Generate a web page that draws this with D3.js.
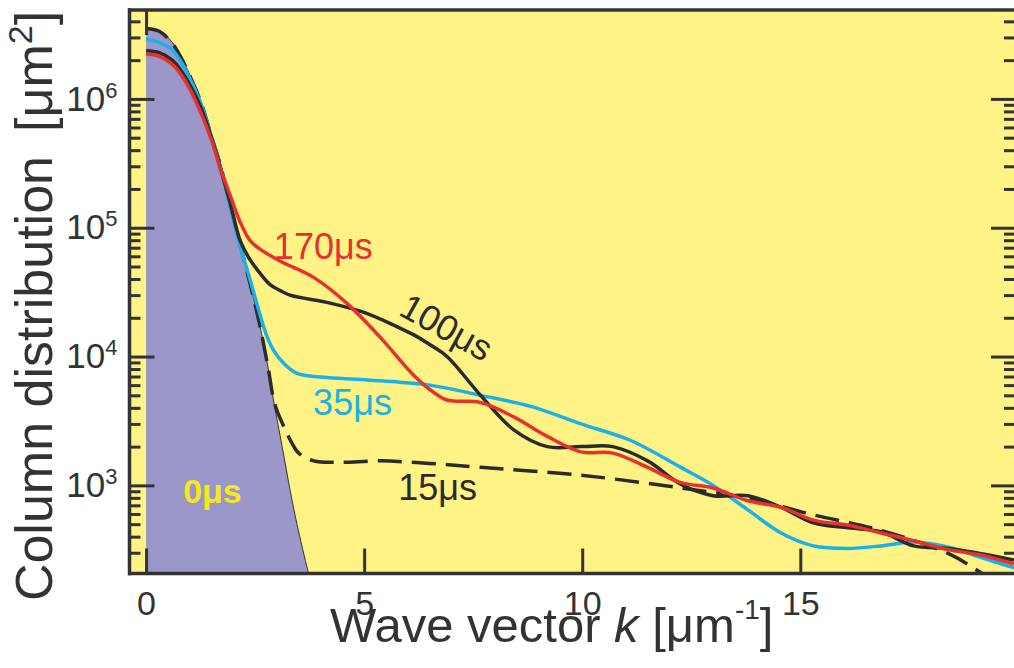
<!DOCTYPE html>
<html lang="en">
<head>
  <meta charset="UTF-8">
  <title>Column distribution vs wave vector</title>
  <script src="https://cdn.jsdelivr.net/npm/d3@7"></script>
  <style>
    body { margin: 0; background: #fff; }
    svg { display: block; font-family: "Liberation Sans", Arial, Helvetica, sans-serif; }
    .axis .domain { display: none; }
    .axis line { stroke: #333; stroke-width: 3; }
    .axis text { fill: #333; }
  </style>
</head>
<body>
<div id="chart"></div>
<script>
  // wave vector k [um^-1] and column distribution [um^2]
  const k0 = [0, 0.3, 0.6, 0.8, 1.0, 1.25, 1.5, 1.7, 1.93, 2.16, 2.4, 2.6, 2.8, 2.92, 3.12, 3.31, 3.46, 3.72, 4.0]
  const n0 = [3.6e6, 3.4e6, 2.75e6, 2.14e6, 1.55e6, 9.8e5, 5.2e5, 3.2e5, 1.5e5, 7.4e4, 3.5e4, 1.8e4, 8.1e3, 4.6e3, 2.0e3, 890, 500, 210, 90]

  const k15 = [0, 0.3, 0.6, 0.8, 1.0, 1.25, 1.5, 1.7, 1.93, 2.16, 2.4, 2.6, 2.8, 2.95, 3.15, 3.31, 3.5, 3.84, 4.45, 5.37, 6.5, 7.67, 9.97, 12.26, 13.8, 15.3, 16.85, 18.4, 19.15, 19.9]
  const n15 = [3.5e6, 3.35e6, 2.7e6, 2.1e6, 1.52e6, 9.6e5, 5.1e5, 3.1e5, 1.48e5, 7.3e4, 3.5e4, 1.8e4, 8.1e3, 4.3e3, 2.9e3, 2.24e3, 1.78e3, 1.55e3, 1.51e3, 1.55e3, 1.48e3, 1.38e3, 1.2e3, 955, 795, 590, 447, 295, 209, 141]

  const k35 = [0, 0.3, 0.6, 0.8, 1.0, 1.25, 1.5, 1.7, 1.93, 2.16, 2.39, 2.55, 2.75, 2.92, 3.15, 3.46, 4.06, 5.0, 6.5, 7.67, 8.82, 9.97, 11.1, 12.26, 13.0, 13.8, 14.56, 15.3, 16.1, 16.85, 17.6, 18.4, 19.15, 19.9]
  const n35 = [2.91e6, 2.75e6, 2.4e6, 1.95e6, 1.45e6, 9.3e5, 5.1e5, 3.0e5, 1.45e5, 7.1e4, 3.9e4, 2.5e4, 1.5e4, 1.12e4, 8.9e3, 7.4e3, 6.9e3, 6.6e3, 6.0e3, 5.0e3, 4.1e3, 3.0e3, 2.24e3, 1.38e3, 1.0e3, 645, 427, 339, 324, 339, 363, 331, 275, 229]

  const k100 = [0, 0.3, 0.6, 0.8, 1.0, 1.25, 1.5, 1.7, 1.93, 2.16, 2.39, 2.62, 2.85, 3.08, 3.3, 4.22, 5.0, 5.76, 6.13, 6.52, 6.9, 7.67, 8.43, 9.2, 9.97, 10.7, 11.5, 12.26, 13.0, 13.8, 14.56, 15.3, 16.1, 16.85, 17.6, 18.4, 19.15, 19.9]
  const n100 = [2.37e6, 2.29e6, 2.0e6, 1.66e6, 1.29e6, 8.7e5, 5.0e5, 2.95e5, 1.55e5, 7.9e4, 5.6e4, 4.4e4, 3.6e4, 3.25e4, 3.0e4, 2.6e4, 2.2e4, 1.7e4, 1.48e4, 1.23e4, 1.0e4, 5.0e3, 2.7e3, 2.0e3, 2.0e3, 2.0e3, 1.55e3, 1.02e3, 832, 832, 676, 513, 468, 437, 339, 324, 295, 263]

  const k170 = [0, 0.3, 0.6, 0.8, 1.0, 1.25, 1.5, 1.7, 1.93, 2.16, 2.39, 2.62, 3.08, 3.85, 4.6, 5.37, 6.13, 6.52, 6.9, 7.67, 8.43, 9.2, 9.97, 10.7, 11.5, 12.26, 13.0, 13.8, 14.56, 15.3, 16.1, 16.85, 17.6, 18.4, 19.15, 19.9]
  const n170 = [2.24e6, 2.14e6, 1.86e6, 1.55e6, 1.2e6, 7.9e5, 4.8e5, 2.9e5, 1.78e5, 1.1e5, 7.9e4, 6.8e4, 5.5e4, 4.1e4, 2.6e4, 1.41e4, 7.2e3, 5.5e3, 4.6e3, 4.4e3, 3.4e3, 2.4e3, 1.82e3, 1.78e3, 1.38e3, 1.05e3, 955, 759, 676, 537, 490, 427, 372, 316, 288, 245]

  const kTicks = [0, 5, 10, 15]
  const yTicks = [1e3, 1e4, 1e5, 1e6]
  const yExp = ['3', '4', '5', '6']

  const width = 1014, height = 668
  const plotLeft = 129.5, plotRight = 1014, plotTop = 10, plotBottom = 573.5

  const x = d3.scaleLinear().domain([-0.38, 19.9]).range([plotLeft, plotRight])
  const y = d3.scaleLog().domain([207, 4.9e6]).range([plotBottom, plotTop])

  const svg = d3.select('#chart').append('svg')
    .attr('width', width)
    .attr('height', height)

  svg.append('defs').append('clipPath').attr('id', 'plot')
    .append('rect')
    .attr('x', plotLeft + 1.5).attr('y', plotTop + 1.5)
    .attr('width', plotRight - plotLeft - 1.5).attr('height', plotBottom - plotTop - 3)

  svg.append('rect')
    .attr('x', plotLeft).attr('y', plotTop)
    .attr('width', plotRight - plotLeft).attr('height', plotBottom - plotTop)
    .attr('fill', '#fff386')

  const zip = (ks, vs) => ks.map((k, i) => [k, vs[i]])
  const curve = d3.curveCatmullRom.alpha(0.5)
  const line = d3.line().x(d => x(d[0])).y(d => y(d[1])).curve(curve)
  const area = d3.area().x(d => x(d[0])).y0(plotBottom + 20).y1(d => y(d[1])).curve(curve)

  const plot = svg.append('g').attr('clip-path', 'url(#plot)')

  // 0us distribution, filled
  plot.append('path')
    .attr('d', area(zip(k0, n0)))
    .attr('fill', '#9b97c8')
  plot.append('path')
    .attr('d', line(zip(k0, n0)))
    .attr('fill', 'none')
    .attr('stroke', '#333')
    .attr('stroke-width', 1)

  const series = [
    {ks: k15, vs: n15, color: '#2b2b2b', dash: '24,10'},
    {ks: k35, vs: n35, color: '#1ab1e8', dash: null},
    {ks: k100, vs: n100, color: '#2b2b2b', dash: null},
    {ks: k170, vs: n170, color: '#e8302e', dash: null}
  ]
  series.forEach(s => {
    plot.append('path')
      .attr('d', line(zip(s.ks, s.vs)))
      .attr('fill', 'none')
      .attr('stroke', s.color)
      .attr('stroke-width', 3.5)
      .attr('stroke-dasharray', s.dash)
  })

  // axes
  svg.append('g').attr('class', 'axis')
    .attr('transform', `translate(0,${plotBottom})`)
    .call(d3.axisBottom(x).tickValues(kTicks).tickSize(-25).tickPadding(17).tickFormat(d3.format('d')))
    .selectAll('text').attr('font-size', 34)

  svg.append('g').attr('class', 'axis')
    .attr('transform', `translate(0,${plotTop})`)
    .call(d3.axisTop(x).tickValues([0]).tickSize(-25).tickFormat(''))

  const minor = y.ticks().filter(d => !yTicks.includes(d))

  const yl = svg.append('g').attr('class', 'axis')
    .attr('transform', `translate(${plotLeft},0)`)
    .call(d3.axisLeft(y).tickValues(yTicks).tickSize(-25).tickPadding(12).tickFormat(''))
  svg.append('g').attr('class', 'axis')
    .attr('transform', `translate(${plotLeft},0)`)
    .call(d3.axisLeft(y).tickValues(minor).tickSize(-11).tickFormat(''))

  yl.selectAll('.tick text').each(function (d, i) {
    const t = d3.select(this).attr('font-size', 35).attr('dy', '0.32em')
    t.append('tspan').text('10')
    t.append('tspan').attr('font-size', 22).attr('dy', -13).text(yExp[i])
  })

  svg.append('g').attr('class', 'axis')
    .attr('transform', `translate(${plotRight},0)`)
    .call(d3.axisRight(y).tickValues(yTicks).tickSize(-23).tickFormat(''))
  svg.append('g').attr('class', 'axis')
    .attr('transform', `translate(${plotRight},0)`)
    .call(d3.axisRight(y).tickValues(minor).tickSize(-10).tickFormat(''))

  // frame
  const frame = svg.append('g').attr('stroke', '#333').attr('stroke-width', 3.5)
  frame.append('line').attr('x1', plotLeft).attr('x2', plotLeft).attr('y1', plotTop - 1.75).attr('y2', plotBottom + 1.75)
  frame.append('line').attr('x1', plotLeft - 1.5).attr('x2', plotRight).attr('y1', plotBottom).attr('y2', plotBottom)
  frame.append('line').attr('x1', plotLeft - 1.5).attr('x2', plotRight).attr('y1', plotTop).attr('y2', plotTop)

  // axis titles
  const xt = svg.append('text')
    .attr('x', 330).attr('y', 642)
    .attr('font-size', 49).attr('fill', '#333')
  xt.append('tspan').text('Wave vector ')
  xt.append('tspan').attr('font-style', 'italic').text('k')
  xt.append('tspan').text(' [μm')
  xt.append('tspan').attr('font-size', 28).attr('dy', -23).text('-1')
  xt.append('tspan').attr('dy', 23).text(']')

  const yt = svg.append('text')
    .attr('transform', 'translate(52,306) rotate(-90)')
    .attr('text-anchor', 'middle')
    .attr('font-size', 52).attr('fill', '#333')
  yt.append('tspan').text('Column distribution')
  yt.append('tspan').attr('dx', 24).text('[μm')
  yt.append('tspan').attr('font-size', 34).attr('dy', -20).text('2')
  yt.append('tspan').attr('dy', 20).text(']')

  // curve labels
  const labels = [
    {text: '170μs', k: 2.93, v: 5.7e4, color: '#e8302e', angle: 0, weight: 'normal', size: 36},
    {text: '100μs', k: 5.76, v: 2.13e4, color: '#2b2b2b', angle: 29, weight: 'normal', size: 36},
    {text: '35μs', k: 3.83, v: 3.5e3, color: '#1ab1e8', angle: 0, weight: 'normal', size: 36},
    {text: '15μs', k: 5.78, v: 764, color: '#2b2b2b', angle: 0, weight: 'normal', size: 36},
    {text: '0μs', k: 0.85, v: 724, color: '#f7e81a', angle: 0, weight: 'bold', size: 34}
  ]
  svg.selectAll('.label').data(labels).join('text')
    .attr('class', 'label')
    .attr('transform', d => `translate(${x(d.k)},${y(d.v)}) rotate(${d.angle})`)
    .attr('fill', d => d.color)
    .attr('font-size', d => d.size)
    .attr('font-weight', d => d.weight)
    .text(d => d.text)
</script>
</body>
</html>
